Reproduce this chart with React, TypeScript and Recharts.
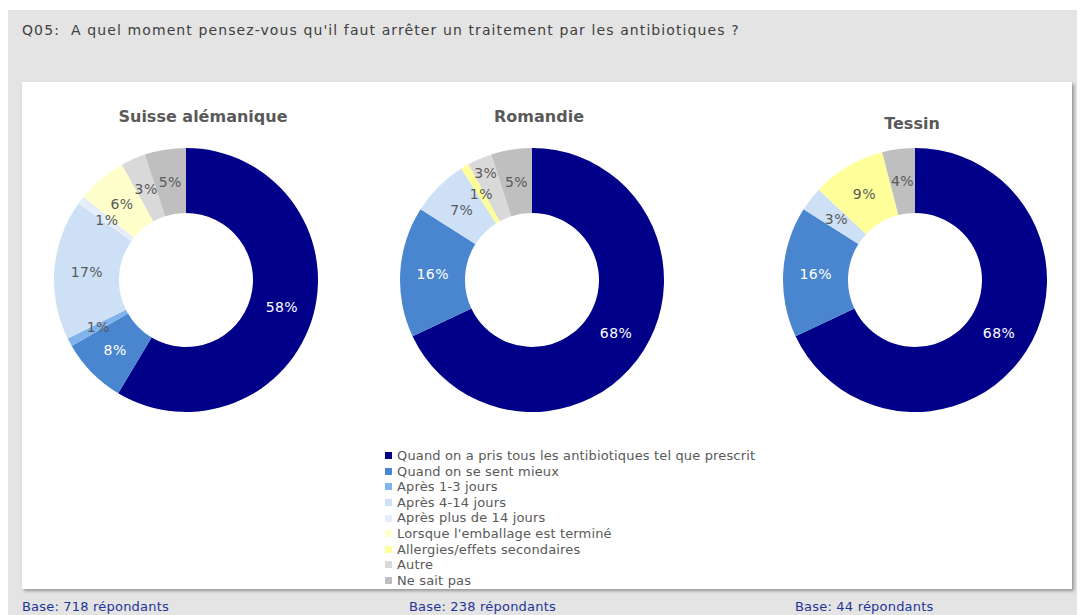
import { PieChart, Pie, Cell, Legend } from 'recharts'

const categories = [
  'Quand on a pris tous les antibiotiques tel que prescrit',
  'Quand on se sent mieux',
  'Après 1-3 jours',
  'Après 4-14 jours',
  'Après plus de 14 jours',
  "Lorsque l'emballage est terminé",
  'Allergies/effets secondaires',
  'Autre',
  'Ne sait pas',
]

const colors = ['#000088', '#4a86d0', '#80b3eb', '#cde0f6', '#e4eefa', '#ffffcc', '#ffff99', '#d9d9d9', '#bfbfbf']
const whiteLabel = [true, true, false, false, false, false, false, false, false]

const suisseValues = [58, 8, 1, 17, 1, 6, 0, 3, 5]
const romandieValues = [68, 16, 0, 7, 0, 0, 1, 3, 5]
const tessinValues = [68, 16, 0, 3, 0, 0, 9, 0, 4]

const regions = ['Suisse alémanique', 'Romandie', 'Tessin']
const bases = ['Base: 718 répondants', 'Base: 238 répondants', 'Base: 44 répondants']

const question = "Q05:  A quel moment pensez-vous qu'il faut arrêter un traitement par les antibiotiques ?"

const font = '"DejaVu Sans", Verdana, sans-serif'
const RADIAN = Math.PI / 180
const INNER = 67
const OUTER = 132
const CY = 280

const pies = [
  { name: regions[0], values: suisseValues, cx: 186, titleX: 203, titleY: 117, baseX: 22 },
  { name: regions[1], values: romandieValues, cx: 532, titleX: 539, titleY: 117, baseX: 409 },
  { name: regions[2], values: tessinValues, cx: 915, titleX: 912, titleY: 124, baseX: 795 },
]

const toData = (values: number[]) =>
  categories.map((name, i) => ({ name, value: values[i], idx: i }))

// label radius per slice: push a small label outward when it would sit on top of the previous one
const labelRadii = (values: number[]) => {
  const total = values.reduce((a, b) => a + b, 0)
  const mid = (INNER + OUTER) / 2
  const radii: number[] = []
  let cum = 0
  let prev: { x: number; y: number } | null = null
  values.forEach((v, i) => {
    const ang = (90 - (360 * (cum + v / 2)) / total) * RADIAN
    cum += v
    let r = mid
    if (v > 0) {
      let x = r * Math.cos(ang)
      let y = -r * Math.sin(ang)
      if (prev && Math.hypot(x - prev.x, y - prev.y) < 20) {
        r = mid + 17
        x = r * Math.cos(ang)
        y = -r * Math.sin(ang)
      }
      prev = { x, y }
    }
    radii[i] = r
  })
  return radii
}

const makeLabel = (values: number[]) => {
  const radii = labelRadii(values)
  return (props: any) => {
    const { cx, cy, midAngle, value, index } = props
    if (!value) return null
    const r = radii[index]
    const x = cx + r * Math.cos(-midAngle * RADIAN)
    const y = cy + r * Math.sin(-midAngle * RADIAN)
    return (
      <text
        x={x}
        y={y}
        fill={whiteLabel[index] ? '#ffffff' : '#595959'}
        textAnchor="middle"
        dominantBaseline="central"
        fontSize={14}
        letterSpacing={0.4}
        fontFamily={font}
      >
        {value}%
      </text>
    )
  }
}

const LegendList = () => (
  <div style={{ fontFamily: font, fontSize: 13, letterSpacing: 0.15, color: '#595959', lineHeight: '15.6px' }}>
    {categories.map((c, i) => (
      <div key={c} style={{ display: 'flex', alignItems: 'center', whiteSpace: 'nowrap' }}>
        <span style={{ width: 7, height: 7, background: colors[i], marginRight: 5, display: 'inline-block' }} />
        {c}
      </div>
    ))}
  </div>
)

export default function App() {
  return (
    <div style={{ position: 'absolute', left: 0, top: 0, width: 1081, height: 615, background: '#fff', overflow: 'hidden' }}>
      <div style={{ position: 'absolute', left: 8, top: 10, width: 1069, height: 605, background: '#e4e4e4' }} />
      <div
        style={{
          position: 'absolute',
          left: 22,
          top: 82,
          width: 1050,
          height: 507,
          background: '#ffffff',
          boxShadow: '2px 2px 3px rgba(0,0,0,0.35)',
        }}
      />
      <div
        style={{
          position: 'absolute',
          left: 22,
          top: 22,
          fontFamily: font,
          fontSize: 14,
          letterSpacing: 1.1,
          color: '#404040',
          whiteSpace: 'pre',
        }}
      >
        {question}
      </div>
      {pies.map(p => (
        <div
          key={p.name}
          style={{
            position: 'absolute',
            left: p.titleX - 150,
            width: 300,
            top: p.titleY - 10,
            textAlign: 'center',
            fontFamily: font,
            fontSize: 16,
            fontWeight: 'bold',
            color: '#595959',
          }}
        >
          {p.name}
        </div>
      ))}
      {pies.map((p, i) => (
        <div
          key={bases[i]}
          style={{
            position: 'absolute',
            left: p.baseX,
            top: 599,
            fontFamily: font,
            fontSize: 13,
            letterSpacing: 0.2,
            color: '#1f3598',
            whiteSpace: 'nowrap',
          }}
        >
          {bases[i]}
        </div>
      ))}
      <div style={{ position: 'absolute', left: 0, top: 0 }}>
        <PieChart width={1081} height={615} margin={{ top: 0, right: 0, bottom: 0, left: 0 }}>
          {pies.map(p => (
            <Pie
              key={p.name}
              data={toData(p.values)}
              dataKey="value"
              nameKey="name"
              cx={p.cx}
              cy={CY}
              innerRadius={INNER}
              outerRadius={OUTER}
              startAngle={90}
              endAngle={-270}
              stroke="none"
              label={makeLabel(p.values)}
              labelLine={false}
              isAnimationActive={false}
            >
              {p.values.map((_, i) => (
                <Cell key={i} fill={colors[i]} />
              ))}
            </Pie>
          ))}
          <Legend
            content={<LegendList />}
            wrapperStyle={{ left: 385, top: 448, width: 'auto' }}
          />
        </PieChart>
      </div>
    </div>
  )
}
